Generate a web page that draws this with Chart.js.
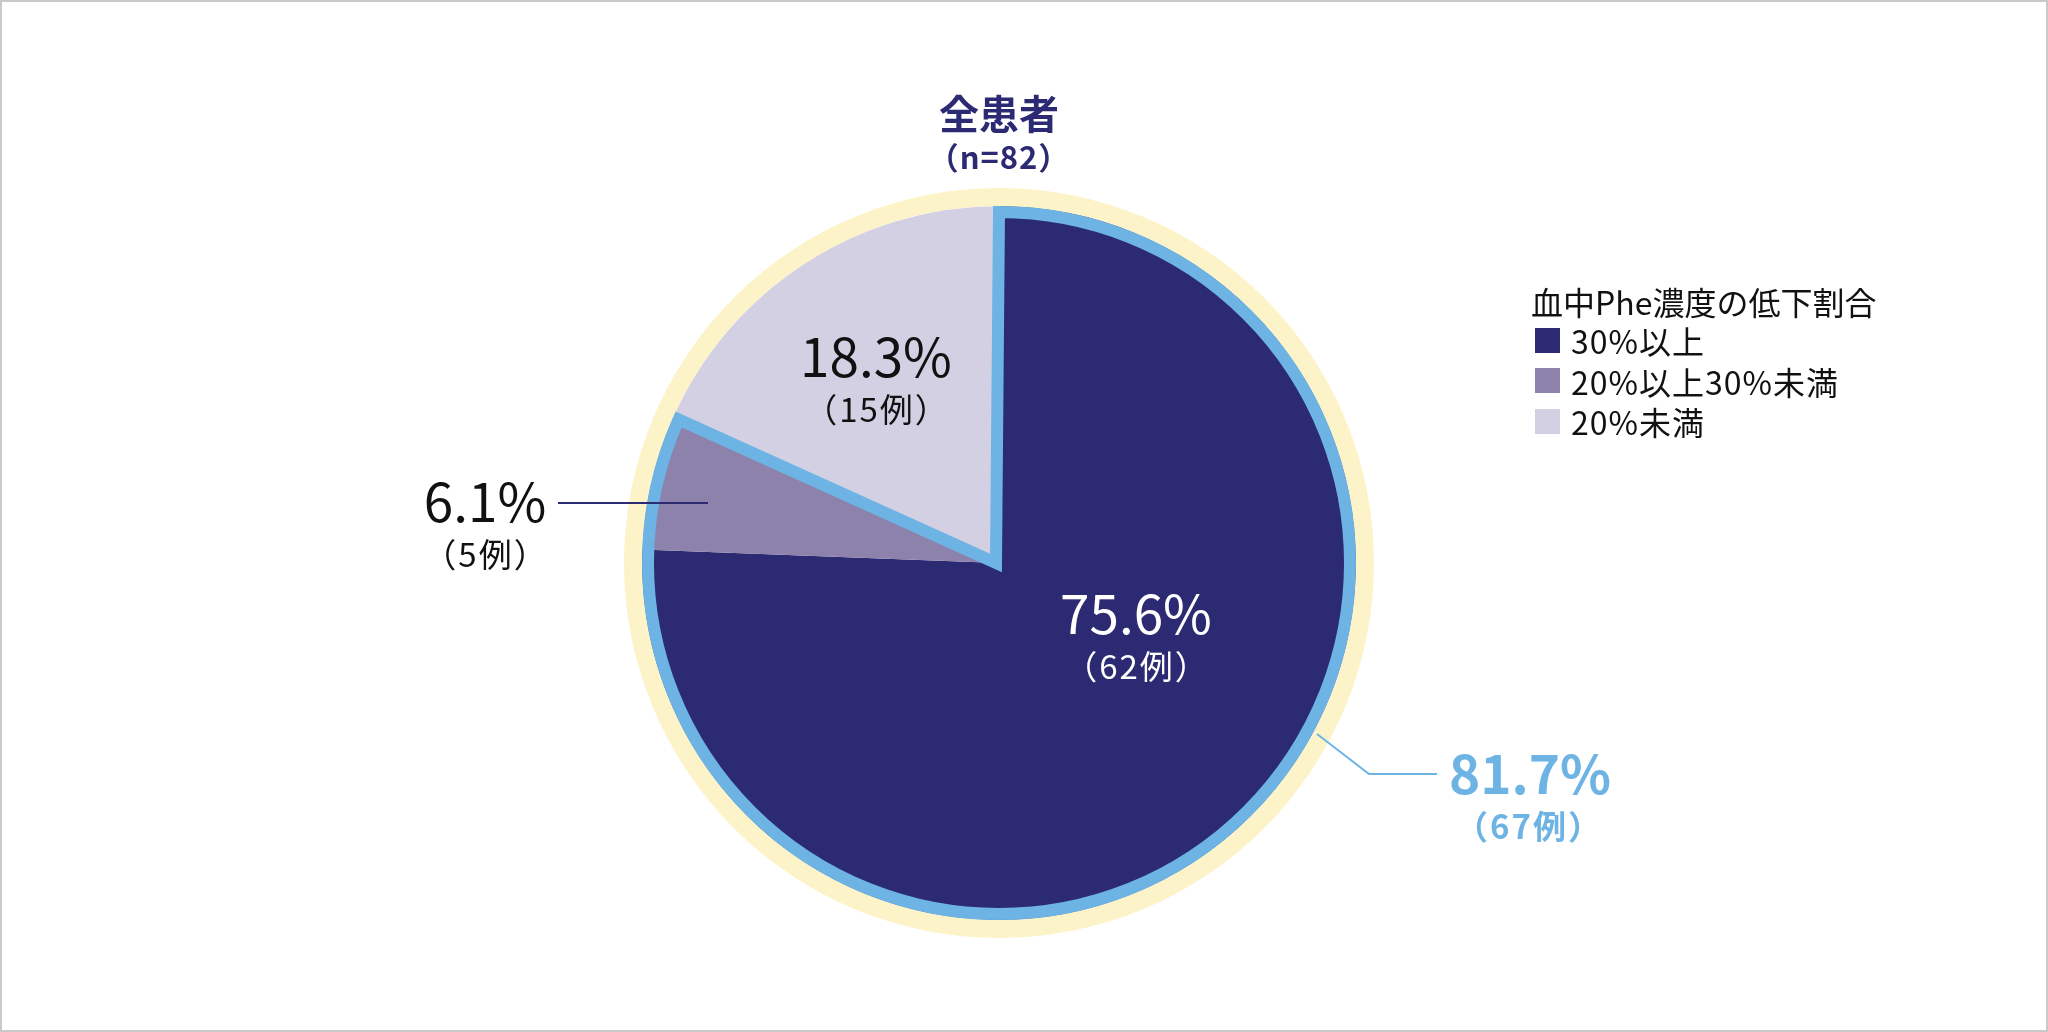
<!DOCTYPE html>
<html lang="ja">
<head>
<meta charset="utf-8">
<title>血中Phe濃度の低下割合</title>
<script src="https://cdn.jsdelivr.net/npm/chart.js@4.4.1/dist/chart.umd.min.js"></script>
<style>
  html, body { margin: 0; padding: 0; background: #fff; }
  #wrap { position: relative; width: 2048px; height: 1032px; overflow: hidden; }
  #frame { position: absolute; left: 0; top: 0; right: 0; bottom: 0; border: 2px solid #c9c9c9; pointer-events: none; }
  #legend { position: absolute; left: 1531px; top: 282px; font-family: 'Noto Sans CJK JP', sans-serif; color: #111; }
  #legend .title { font-size: 32px; line-height: 38px; white-space: nowrap; }
  #legend .item { display: flex; align-items: center; height: 40.5px; font-size: 32px; letter-spacing: 1px; white-space: nowrap; }
  #legend .sw { width: 25px; height: 25px; margin: 0 11px 0 4px; }
</style>
</head>
<body>
<div id="wrap">
  <canvas id="pieChart"></canvas>
  <div id="legend"></div>
  <div id="frame"></div>
</div>
<script>
// ---- data ----
const categories = ['30%以上', '20%以上30%未満', '20%未満'];
const percents = [75.6, 6.1, 18.3];
const counts = [62, 5, 15];
const totalN = 82;
const combinedPercent = 81.7;   // 30%以上 + 20%以上30%未満
const combinedCount = 67;

const sliceColors = ['#2b2a72', '#8d82ac', '#d4d0e3'];
const ringColor = '#fdf3c8';
const outlineColor = '#6db3e3';
const FONT = '"Noto Sans CJK JP", "Noto Sans", sans-serif';

/* ------------------------------
   Label placement, relative to pie centre
------------------------------ */
const labelLayout = [
  { dx: 137, dy: 51, color: '#ffffff' },
  { dx: -514, dy: -61, color: '#111111', leader: [[-441, -60], [-291, -60]], leaderColor: '#2b2a72' },
  { dx: -123, dy: -206, color: '#111111' }
];

/* ------------------------------
   Plugin: blue outline round the 81.7% part
------------------------------ */
const outlinePlugin = {
  id: 'outline',
  afterDatasetsDraw(chart) {
    const arcs = chart.getDatasetMeta(1).data;
    const first = arcs[0], second = arcs[1];
    const w = 12;
    const ctx = chart.ctx;
    ctx.save();
    ctx.beginPath();
    ctx.moveTo(first.x - 3, first.y);
    ctx.arc(first.x, first.y, first.outerRadius - w / 2, first.startAngle, second.endAngle);
    ctx.closePath();
    ctx.lineWidth = w;
    ctx.lineJoin = 'miter';
    ctx.strokeStyle = outlineColor;
    ctx.stroke();
    ctx.restore();
  }
};

/* ------------------------------
   Plugin: title + value labels
------------------------------ */
const labelPlugin = {
  id: 'labels',
  afterDraw(chart) {
    const ctx = chart.ctx;
    const arc = chart.getDatasetMeta(1).data[0];
    const cx = arc.x, cy = arc.y;

    ctx.save();
    ctx.textAlign = 'center';
    ctx.textBaseline = 'middle';

    // title
    ctx.fillStyle = '#2b2a72';
    ctx.letterSpacing = '0px';
    ctx.font = `700 40px ${FONT}`;
    ctx.fillText('全患者', cx, cy - 449);
    ctx.font = `600 31px ${FONT}`;
    ctx.letterSpacing = '1px';
    ctx.fillText(`（n=${totalN}）`, cx, cy - 406);

    // slice labels
    labelLayout.forEach((l, i) => {
      if (l.leader) {
        ctx.beginPath();
        ctx.moveTo(cx + l.leader[0][0], cy + l.leader[0][1]);
        for (let k = 1; k < l.leader.length; k++) ctx.lineTo(cx + l.leader[k][0], cy + l.leader[k][1]);
        ctx.strokeStyle = l.leaderColor;
        ctx.lineWidth = 2;
        ctx.stroke();
      }
      ctx.fillStyle = l.color;
      ctx.letterSpacing = '0px';
      ctx.font = `400 53px ${FONT}`;
      ctx.fillText(percents[i].toFixed(1) + '%', cx + l.dx, cy + l.dy);
      ctx.letterSpacing = '2px';
      ctx.font = `400 33px ${FONT}`;
      ctx.fillText(`（${counts[i]}例）`, cx + l.dx + 1, cy + l.dy + 52);
    });

    // combined label
    ctx.beginPath();
    ctx.moveTo(cx + 318, cy + 171);
    ctx.lineTo(cx + 370, cy + 211);
    ctx.lineTo(cx + 438, cy + 211);
    ctx.strokeStyle = outlineColor;
    ctx.lineWidth = 2;
    ctx.stroke();

    ctx.fillStyle = outlineColor;
    ctx.letterSpacing = '0px';
    ctx.font = `700 53px ${FONT}`;
    ctx.fillText(combinedPercent.toFixed(1) + '%', cx + 531, cy + 211);
    ctx.letterSpacing = '2px';
    ctx.font = `700 33px ${FONT}`;
    ctx.fillText(`（${combinedCount}例）`, cx + 530, cy + 263);

    ctx.restore();
  }
};

/* ------------------------------
   Chart
------------------------------ */
new Chart(document.getElementById('pieChart'), {
  type: 'pie',
  data: {
    labels: categories,
    datasets: [
      {
        label: '全患者',
        data: [totalN],
        backgroundColor: [ringColor],
        borderWidth: 0,
        weight: 18
      },
      {
        label: '血中Phe濃度の低下割合',
        data: percents,
        backgroundColor: sliceColors,
        borderWidth: 0,
        weight: 357
      }
    ]
  },
  options: {
    responsive: true,
    maintainAspectRatio: false,
    animation: false,
    layout: {
      padding: { left: 624, right: 674, top: 188, bottom: 94 }
    },
    plugins: {
      legend: { display: false },
      tooltip: { enabled: false }
    }
  },
  plugins: [outlinePlugin, labelPlugin]
});

// ---- HTML legend ----
const legend = document.getElementById('legend');
legend.innerHTML = '<div class="title">血中Phe濃度の低下割合</div>' +
  categories.map((c, i) =>
    `<div class="item"><span class="sw" style="background:${sliceColors[i]}"></span>${c}</div>`
  ).join('');
</script>
</body>
</html>
